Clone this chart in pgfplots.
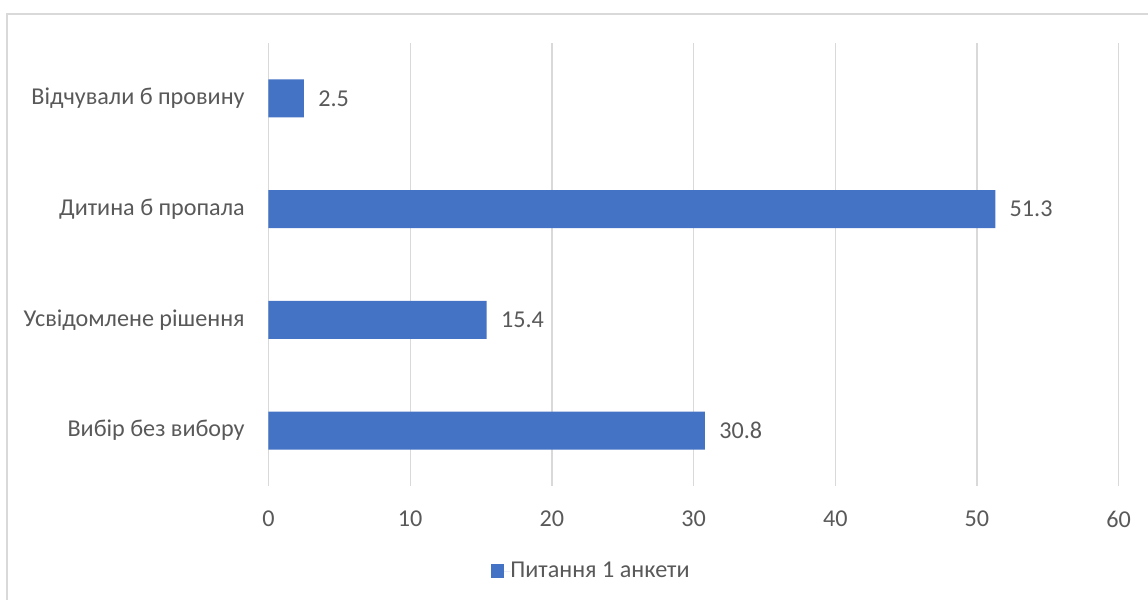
\documentclass[border=0pt]{standalone}
\usepackage{pgfplots}
\pgfplotsset{compat=1.18}
\usepackage{fontspec}
\setmainfont{Carlito}
\definecolor{barblue}{HTML}{4472C4}
\definecolor{gridgray}{HTML}{D9D9D9}
\definecolor{txtgray}{HTML}{595959}
\begin{document}
\begin{tikzpicture}
\useasboundingbox (0,0) rectangle (688.8pt,359.4pt);
\draw[gridgray, line width=0.8pt] (4.2pt,-2pt) -- (4.2pt,351pt) -- (692pt,351pt);
\begin{axis}[
  at={(161.1pt,67.8pt)}, anchor=south west,
  width=510.1pt, height=265.8pt, scale only axis,
  xbar, bar width=22.8pt,
  xmin=0, xmax=60, ymin=-0.5, ymax=3.5,
  xtick={0,10,20,30,40,50,60},
  ytick={0,1,2,3},
  yticklabels={Вибір без вибору, Усвідомлене рішення, Дитина б пропала, Відчували б провину},
  axis line style={draw=none},
  major tick length=0pt,
  xmajorgrids, grid style={gridgray, line width=0.8pt},
  /pgf/number format/assume math mode=true,
  tick label style={font=\fontsize{14.5}{17}\selectfont, text=txtgray},
  yticklabel style={anchor=east, inner sep=0pt, xshift=-14.1pt},
  xticklabel style={anchor=center, inner sep=0pt, yshift=-19.8pt},
  nodes near coords={\pgfmathprintnumber[fixed,fixed zerofill,precision=1]{\pgfplotspointmeta}},
  nodes near coords style={font=\fontsize{14.5}{17}\selectfont, text=txtgray, anchor=west, inner sep=0pt, xshift=8.4pt},
  legend style={at={(0.2613,-0.1919)}, anchor=west, draw=none, fill=none, inner sep=0pt,
    font=\fontsize{14.5}{17}\selectfont, text=txtgray,
    nodes={inner sep=0pt}},
  legend image code/.code={\path (0pt,0pt) -- (11.6pt,0pt);\fill[barblue] (0pt,-4pt) rectangle (8pt,4pt);},
]
\addplot[fill=barblue, draw=none] coordinates {(30.8,0) (15.4,1) (51.3,2) (2.5,3)};
\addlegendentry{Питання 1 анкети}
\end{axis}
\end{tikzpicture}
\end{document}
